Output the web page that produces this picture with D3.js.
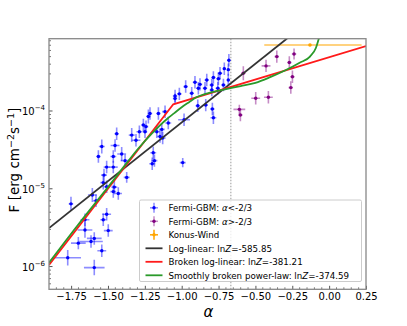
<!DOCTYPE html>
<html>
<head>
<meta charset="utf-8">
<script src="https://cdn.jsdelivr.net/npm/d3@7"></script>
<style>
  body { margin: 0; background: #fff; }
  text { font-family: "DejaVu Sans", sans-serif; }
</style>
</head>
<body>
<div class="canvas"></div>
<script>
// alpha, flux [erg cm^-2 s^-1], alpha error, flux error (dex)
const gbmLow = [
  [-1.751, 6.4e-6, 0.015, 0.09], [-1.773, 1.3e-6, 0.09, 0.1], [-1.701, 2.0e-6, 0.05, 0.08],
  [-1.656, 2.95e-6, 0.05, 0.1], [-1.656, 4.0e-6, 0.03, 0.08], [-1.615, 2.1e-6, 0.08, 0.08],
  [-1.593, 2.3e-6, 0.05, 0.08], [-1.542, 1.6e-6, 0.03, 0.08], [-1.593, 9.7e-7, 0.07, 0.1],
  [-1.606, 8.3e-6, 0.03, 0.09], [-1.581, 7.0e-6, 0.02, 0.08], [-1.532, 1.2e-5, 0.02, 0.09],
  [-1.509, 1.06e-5, 0.02, 0.08], [-1.457, 1.05e-5, 0.02, 0.09], [-1.43, 8.7e-6, 0.025, 0.08],
  [-1.509, 4.7e-6, 0.03, 0.08], [-1.532, 4.0e-6, 0.02, 0.08], [-1.498, 2.9e-6, 0.03, 0.08],
  [-1.542, 3.5e-5, 0.02, 0.09], [-1.565, 2.6e-5, 0.015, 0.08], [-1.464, 2.6e-5, 0.02, 0.08],
  [-1.452, 3.6e-5, 0.03, 0.08], [-1.441, 5.1e-5, 0.015, 0.08], [-1.407, 2.8e-5, 0.03, 0.09],
  [-1.384, 2.3e-5, 0.03, 0.08], [-1.464, 1.9e-5, 0.03, 0.08], [-1.509, 1.9e-5, 0.02, 0.08],
  [-1.527, 1.5e-5, 0.02, 0.08], [-1.373, 1.4e-5, 0.02, 0.07], [-1.464, 9.2e-6, 0.02, 0.08],
  [-1.339, 4.9e-5, 0.02, 0.09], [-1.287, 5.4e-5, 0.02, 0.08], [-1.31, 4.2e-5, 0.03, 0.08],
  [-1.226, 8.5e-5, 0.015, 0.09], [-1.242, 6.3e-5, 0.015, 0.08],
  [-1.045, 1.56e-4, 0.015, 0.08], [-1.045, 1.45e-4, 0.015, 0.06], [-1.016, 1.66e-4, 0.015, 0.08],
  [-1.215, 9.3e-5, 0.015, 0.08], [-1.158, 9.3e-5, 0.015, 0.08], [-1.113, 9.8e-5, 0.02, 0.08],
  [-1.091, 7.0e-5, 0.02, 0.08], [-1.135, 5.8e-5, 0.02, 0.08], [-1.26, 6.6e-5, 0.015, 0.08],
  [-1.249, 5.4e-5, 0.015, 0.08], [-1.169, 5.4e-5, 0.02, 0.08], [-1.147, 4.7e-5, 0.02, 0.08],
  [-1.129, 4.5e-5, 0.02, 0.08], [-1.193, 2.9e-5, 0.02, 0.08], [-1.2, 2.1e-5, 0.02, 0.08],
  [-1.185, 2.3e-5, 0.02, 0.08], [-0.984, 7.7e-5, 0.04, 0.08], [-0.993, 2.17e-5, 0.02, 0.06],
  [-0.68, 4.5e-4, 0.01, 0.08], [-0.684, 3.4e-4, 0.01, 0.08], [-0.711, 3.5e-4, 0.01, 0.08],
  [-0.74, 3.05e-4, 0.015, 0.08], [-0.751, 2.6e-4, 0.015, 0.08], [-0.684, 2.5e-4, 0.01, 0.08],
  [-0.717, 2.16e-4, 0.015, 0.08], [-0.785, 2.7e-4, 0.015, 0.08], [-0.796, 2.16e-4, 0.015, 0.08],
  [-0.755, 1.96e-4, 0.015, 0.08], [-0.83, 2.5e-4, 0.015, 0.08], [-0.876, 2.2e-4, 0.015, 0.08],
  [-0.91, 2.34e-4, 0.015, 0.08], [-0.887, 1.96e-4, 0.015, 0.08], [-0.842, 1.96e-4, 0.015, 0.08],
  [-0.796, 1.86e-4, 0.015, 0.08], [-0.973, 2.06e-4, 0.015, 0.08], [-0.891, 1.17e-4, 0.015, 0.08],
  [-0.837, 1.19e-4, 0.015, 0.08], [-0.792, 1.06e-4, 0.015, 0.08], [-0.785, 8.2e-5, 0.02, 0.08],
  [-0.932, 1.69e-4, 0.015, 0.08]
];

const gbmHigh = [
  [-0.582, 3.05e-4, 0.015, 0.09], [-0.609, 1.05e-4, 0.04, 0.06], [-0.602, 8.9e-5, 0.015, 0.08],
  [-0.498, 1.46e-4, 0.03, 0.08], [-0.412, 1.5e-4, 0.03, 0.08], [-0.428, 3.8e-4, 0.03, 0.08],
  [-0.355, 5.0e-4, 0.015, 0.08], [-0.27, 4.2e-4, 0.015, 0.08], [-0.238, 5.4e-4, 0.015, 0.07],
  [-0.249, 2.76e-4, 0.015, 0.08], [-0.26, 2.0e-4, 0.015, 0.08]
];

// alpha, flux, left / right alpha error
const konus = [[-0.13, 7.05e-4, 0.31, 0.35]];

const logLinear = [[-1.9, 3.12e-6], [-0.2, 1.15e-3]];
const brokenLogLinear = [[-1.9, 1.05e-6], [-1.057, 1.22e-4], [0.25, 6.84e-4]];
const smoothBroken = [
  [-1.9, 1.12e-6], [-1.7, 3.5e-6], [-1.5, 1.05e-5], [-1.4, 1.84e-5], [-1.3, 3.2e-5],
  [-1.2, 5.2e-5], [-1.1, 7.9e-5], [-1.05, 9.4e-5], [-1.0, 1.12e-4], [-0.95, 1.3e-4],
  [-0.9, 1.5e-4], [-0.8, 1.74e-4], [-0.7, 1.91e-4], [-0.6, 2.09e-4], [-0.5, 2.3e-4],
  [-0.4, 2.72e-4], [-0.3, 3.31e-4], [-0.2, 4.17e-4], [-0.13, 5.01e-4], [-0.09, 6.46e-4],
  [-0.07, 8.51e-4], [-0.05, 1.12e-3]
];

const xTicks = [-1.75, -1.5, -1.25, -1.0, -0.75, -0.5, -0.25, 0, 0.25];
const yTicks = [1e-6, 1e-5, 1e-4];
const legendLabels = [
  'Fermi-GBM: α<-2/3', 'Fermi-GBM: α>-2/3', 'Konus-Wind',
  'Log-linear: lnZ=-585.85', 'Broken log-linear: lnZ=-381.21',
  'Smoothly broken power-law: lnZ=-374.59'
];

const margin = { top: 38.7, right: 41, bottom: 36.7, left: 49 };
const svgDims = { width: 407, height: 326 };
const graphWidth = svgDims.width - margin.left - margin.right;
const graphHeight = svgDims.height - margin.top - margin.bottom;

const svg = d3.select('.canvas')
    .append('svg')
    .attr('width', svgDims.width)
    .attr('height', svgDims.height);

const graph = svg.append('g')
    .attr('transform', `translate(${margin.left}, ${margin.top})`);

const x = d3.scaleLinear().domain([-1.9, 0.25]).range([0, graphWidth]);
const y = d3.scaleLog().domain([5.1e-7, 8.5e-4]).range([graphHeight, 0]);

svg.append('defs').append('clipPath').attr('id', 'clip')
  .append('rect').attr('width', graphWidth).attr('height', graphHeight);

const plot = graph.append('g').attr('clip-path', 'url(#clip)');

// dotted line at alpha = -2/3
plot.append('line')
    .attr('x1', x(-2 / 3)).attr('x2', x(-2 / 3))
    .attr('y1', 0).attr('y2', graphHeight)
    .attr('stroke', '#aaa').attr('stroke-width', 1.2)
    .attr('stroke-dasharray', '1.5,1.5');

// error bar points
const drawErr = (data, color) => {
  const g = plot.append('g');
  data.forEach(d => {
    const [a, f, da, dl] = d;
    g.append('line')
        .attr('x1', x(a - da)).attr('x2', x(a + da))
        .attr('y1', y(f)).attr('y2', y(f))
        .attr('stroke', color).attr('stroke-opacity', 0.45).attr('stroke-width', 1.6);
    g.append('line')
        .attr('x1', x(a)).attr('x2', x(a))
        .attr('y1', y(f * Math.pow(10, -dl))).attr('y2', y(f * Math.pow(10, dl)))
        .attr('stroke', color).attr('stroke-opacity', 0.45).attr('stroke-width', 1.6);
  });
  g.selectAll('circle').data(data).enter().append('circle')
      .attr('cx', d => x(d[0])).attr('cy', d => y(d[1]))
      .attr('r', 1.7).attr('fill', color);
};

drawErr(gbmLow, '#0000ff');
drawErr(gbmHigh, '#800080');

konus.forEach(d => {
  plot.append('line')
      .attr('x1', x(d[0] - d[2])).attr('x2', x(d[0] + d[3]))
      .attr('y1', y(d[1])).attr('y2', y(d[1]))
      .attr('stroke', '#ffa500').attr('stroke-width', 1.1);
  plot.append('circle')
      .attr('cx', x(d[0])).attr('cy', y(d[1]))
      .attr('r', 1.8).attr('fill', '#ffa500');
});

const line = d3.line()
    .x(d => x(d[0]))
    .y(d => y(d[1]));

plot.append('path').datum(logLinear)
    .attr('fill', 'none').attr('stroke', '#333').attr('stroke-width', 1.8)
    .attr('d', line);
plot.append('path').datum(brokenLogLinear)
    .attr('fill', 'none').attr('stroke', '#ff1a1a').attr('stroke-width', 1.8)
    .attr('d', line);
plot.append('path').datum(smoothBroken)
    .attr('fill', 'none').attr('stroke', '#2a9a2a').attr('stroke-width', 1.8)
    .attr('d', line.curve(d3.curveMonotoneX));

// axes: ticks inward, minor ticks
const xMinor = d3.range(-1.85, 0.26, 0.05).filter(v => Math.abs(v / 0.25 - Math.round(v / 0.25)) > 0.01);
const xAxis = d3.axisBottom(x).tickValues(xTicks)
    .tickFormat(d => d3.format('.2f')(d).replace('-', '−'))
    .tickSizeInner(-3.5).tickSizeOuter(0).tickPadding(4);
const xAxisGroup = graph.append('g').attr('transform', `translate(0, ${graphHeight})`).call(xAxis);
xAxisGroup.select('.domain').remove();
xAxisGroup.selectAll('text').attr('font-size', 10).attr('fill', '#000');
xAxisGroup.selectAll('line').attr('stroke', '#555');
graph.append('g').selectAll('line').data(xMinor).enter().append('line')
    .attr('x1', d => x(d)).attr('x2', d => x(d))
    .attr('y1', graphHeight).attr('y2', graphHeight - 2)
    .attr('stroke', '#555').attr('stroke-width', 0.8);

const yMinor = [];
[-7, -6, -5, -4].forEach(e => d3.range(2, 10).forEach(m => {
  const v = m * Math.pow(10, e);
  if (v > 5.1e-7 && v < 8.5e-4) yMinor.push(v);
}));
const yAxisGroup = graph.append('g');
yTicks.forEach(t => {
  yAxisGroup.append('line')
      .attr('x1', 0).attr('x2', 3.5).attr('y1', y(t)).attr('y2', y(t))
      .attr('stroke', '#555');
  const txt = yAxisGroup.append('text')
      .attr('x', -4).attr('y', y(t) + 4)
      .attr('text-anchor', 'end').attr('font-size', 10);
  txt.append('tspan').text('10');
  txt.append('tspan').attr('dy', -5).attr('font-size', 7).text('−' + Math.round(-Math.log10(t)));
});
yAxisGroup.selectAll('.minor').data(yMinor).enter().append('line')
    .attr('x1', 0).attr('x2', 2).attr('y1', d => y(d)).attr('y2', d => y(d))
    .attr('stroke', '#555').attr('stroke-width', 0.8);

// frame
graph.append('rect')
    .attr('width', graphWidth).attr('height', graphHeight)
    .attr('fill', 'none').attr('stroke', '#888').attr('stroke-width', 1.3);

// axis labels
svg.append('text')
    .attr('x', margin.left + graphWidth / 2 + 1).attr('y', 317)
    .attr('text-anchor', 'middle').attr('font-size', 15).attr('font-style', 'italic')
    .text('α');

const yl = svg.append('text')
    .attr('transform', 'translate(19, 160) rotate(-90)')
    .attr('text-anchor', 'middle').attr('font-size', 13.5);
yl.append('tspan').text('F [erg cm');
yl.append('tspan').attr('dy', -5).attr('font-size', 9.5).text('−2');
yl.append('tspan').attr('dy', 5).text('s');
yl.append('tspan').attr('dy', -5).attr('font-size', 9.5).text('−1');
yl.append('tspan').attr('dy', 5).text(']');

// legend
const legend = graph.append('g').attr('transform', `translate(${139.5 - margin.left}, ${200 - margin.top})`);
legend.append('rect')
    .attr('width', 222).attr('height', 81.5)
    .attr('fill', '#fff').attr('fill-opacity', 0.8)
    .attr('stroke', '#ccc').attr('stroke-width', 1).attr('rx', 1.5);

const legendColors = ['#0000ff', '#800080', '#ffa500', '#333', '#ff1a1a', '#2a9a2a'];
legendLabels.forEach((lab, i) => {
  const ly = 7.8 + i * 13.5;
  const row = legend.append('g').attr('transform', `translate(0, ${ly})`);
  if (i < 3) {
    row.append('line').attr('x1', 10.5).attr('x2', 18.5).attr('y1', 0).attr('y2', 0)
        .attr('stroke', legendColors[i]).attr('stroke-opacity', i < 2 ? 0.45 : 1).attr('stroke-width', 1.5);
    row.append('line').attr('x1', 14.5).attr('x2', 14.5).attr('y1', -5).attr('y2', 5)
        .attr('stroke', legendColors[i]).attr('stroke-opacity', i < 2 ? 0.45 : 1).attr('stroke-width', 1.5);
    row.append('circle').attr('cx', 14.5).attr('cy', 0).attr('r', 1.7).attr('fill', legendColors[i]);
  } else {
    row.append('line').attr('x1', 6).attr('x2', 23).attr('y1', 0).attr('y2', 0)
        .attr('stroke', legendColors[i]).attr('stroke-width', 1.8);
  }
  const t = row.append('text').attr('x', 29).attr('y', 3.2).attr('font-size', 8.7);
  const parts = lab.split(/(α|Z)/);
  parts.forEach(p => {
    if (p === 'α' || p === 'Z') t.append('tspan').attr('font-style', 'italic').text(p);
    else if (p) t.append('tspan').text(p);
  });
});
</script>
</body>
</html>
